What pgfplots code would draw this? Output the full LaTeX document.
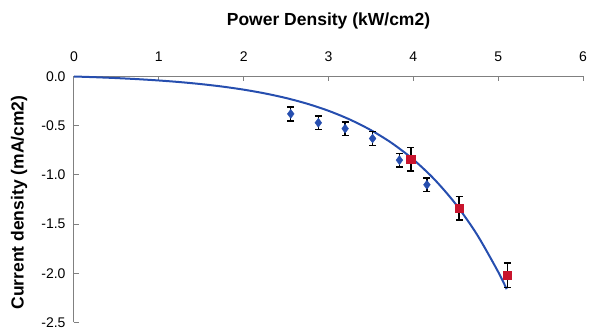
\documentclass[border=0pt]{standalone}
\usepackage{fontspec}
\setmainfont{Liberation Sans}
\usepackage{pgfplots}
\pgfplotsset{compat=1.18}
\definecolor{ptblue}{RGB}{38,78,175}
\definecolor{ptred}{RGB}{200,20,45}
\definecolor{axgray}{RGB}{128,128,128}
\begin{document}
\begin{tikzpicture}
\begin{axis}[
  name=ax,
  scale only axis,
  width=509pt, height=246pt,
  xmin=0, xmax=6, ymin=-2.5, ymax=0,
  axis x line=top, axis y line=left,
  axis line style={axgray, line width=1pt, -},
  xtick={0,1,...,6}, ytick={-2.5,-2,-1.5,-1,-0.5,0},
  tick style={axgray, line width=1pt},
  major tick length=5pt,
  tick align=inside,
  /pgf/number format/assume math mode=true,
  xticklabel style={font=\fontsize{14}{16}\selectfont},
  yticklabel style={font=\fontsize{14}{16}\selectfont, /pgf/number format/.cd, fixed, fixed zerofill, precision=1},
  xticklabel shift=11pt,
  yticklabel shift=5pt,
  xlabel={\textbf{Power Density (kW/cm2)}},
  ylabel={\textbf{Current density (mA/cm2)}},
  label style={font=\fontsize{17.5}{19}\selectfont},
  xlabel style={at={([yshift=56pt]axis description cs:0.5,1)}, anchor=center},
  ylabel style={at={([xshift=-55pt,yshift=-3pt]axis description cs:0,0.5)}, anchor=center},
  clip=false,
]
\addplot[ptblue, line width=2pt, smooth] coordinates {
(0,0) (0.25,-0.0072) (0.5,-0.0161) (0.75,-0.0270) (1.0,-0.0405) (1.25,-0.0570)
(1.5,-0.0775) (1.75,-0.1026) (2.0,-0.1337) (2.25,-0.1719) (2.5,-0.2190)
(2.75,-0.2770) (3.0,-0.3485) (3.25,-0.4368) (3.5,-0.5453) (3.75,-0.6789)
(4.0,-0.8438) (4.25,-1.0469) (4.5,-1.2970) (4.75,-1.6055) (5.0,-1.985) (5.1,-2.161)
};
\addplot[only marks, mark=diamond*, mark size=4.5pt, mark options={fill=ptblue, draw=ptblue},
  error bars/.cd, y dir=both, y explicit,
  error bar style={black, line width=1.5pt},
  error mark options={black, line width=1.5pt, rotate=90, mark size=3.5pt}]
coordinates {
(2.555,-0.38) +- (0,0.07)
(2.88,-0.47) +- (0,0.07)
(3.196,-0.53) +- (0,0.07)
(3.52,-0.63) +- (0,0.07)
(3.836,-0.85) +- (0,0.07)
(4.16,-1.10) +- (0,0.07)
};
\addplot[only marks, mark=square*, mark size=4.2pt, mark options={fill=ptred, draw=ptred},
  error bars/.cd, y dir=both, y explicit,
  error bar style={black, line width=1.5pt},
  error mark options={black, line width=1.5pt, rotate=90, mark size=3.5pt}]
coordinates {
(3.97,-0.84) +- (0,0.12)
(4.54,-1.34) +- (0,0.12)
(5.11,-2.02) +- (0,0.125)
};
\end{axis}
\pgfresetboundingbox
\useasboundingbox ([xshift=-74pt,yshift=-6.5pt]ax.south west) rectangle ([xshift=6pt,yshift=76.5pt]ax.north east);
\end{tikzpicture}
\end{document}
